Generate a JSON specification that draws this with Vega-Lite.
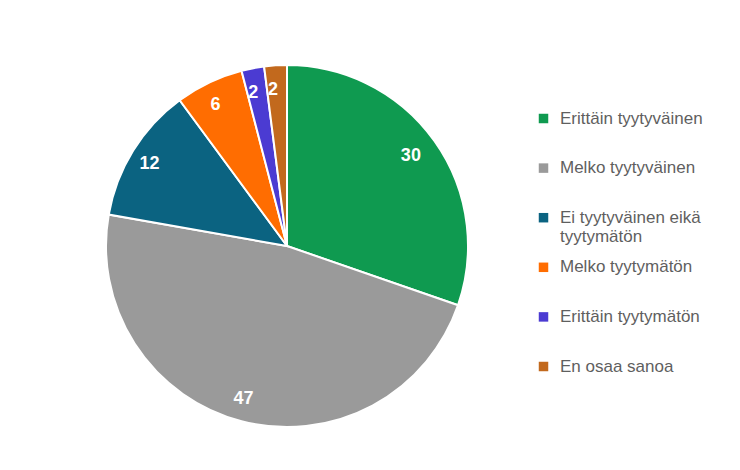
{
  "$schema": "https://vega.github.io/schema/vega-lite/v6.json",
  "width": 560,
  "height": 462,
  "autosize": {"type": "none"},
  "padding": {"left": 7, "top": 15, "right": 173, "bottom": 0},
  "background": "white",
  "config": {"view": {"stroke": null}},
  "data": {
    "values": [
      {"idx": 1, "category": "Erittäin tyytyväinen", "value": 30},
      {"idx": 2, "category": "Melko tyytyväinen", "value": 47},
      {"idx": 3, "category": "Ei tyytyväinen eikä tyytymätön", "value": 12},
      {"idx": 4, "category": "Melko tyytymätön", "value": 6},
      {"idx": 5, "category": "Erittäin tyytymätön", "value": 2},
      {"idx": 6, "category": "En osaa sanoa", "value": 2}
    ]
  },
  "encoding": {
    "theta": {"field": "value", "type": "quantitative", "stack": true},
    "order": {"field": "idx", "type": "quantitative"}
  },
  "layer": [
    {
      "mark": {"type": "arc", "outerRadius": 181, "stroke": "white", "strokeWidth": 2},
      "encoding": {
        "color": {
          "field": "category",
          "type": "nominal",
          "sort": null,
          "scale": {
            "domain": ["Erittäin tyytyväinen", "Melko tyytyväinen", "Ei tyytyväinen eikä tyytymätön", "Melko tyytymätön", "Erittäin tyytymätön", "En osaa sanoa"],
            "range": ["#0f9a50", "#9a9a9a", "#0b6381", "#ff6d01", "#4b3bd2", "#c2691d"]
          },
          "legend": {
            "title": null,
            "orient": "none",
            "legendX": 528,
            "legendY": 95,
            "padding": 0,
            "symbolType": "square",
            "symbolSize": 90,
            "symbolStrokeWidth": 0,
            "labelFont": "Liberation Sans",
            "labelFontSize": 17,
            "labelColor": "#5f5f5f",
            "labelOffset": 8,
            "labelLimit": 300,
            "gridAlign": "all",
            "rowPadding": 12.6,
            "labelExpr": "datum.label == 'Ei tyytyväinen eikä tyytymätön' ? ['Ei tyytyväinen eikä', 'tyytymätön'] : datum.label"
          }
        }
      }
    },
    {
      "mark": {"type": "text", "radius": 157, "dx": -4, "dy": 1, "fill": "white", "font": "Liberation Sans", "fontSize": 18, "fontWeight": "bold"},
      "encoding": {
        "text": {"field": "value", "type": "quantitative"}
      }
    }
  ]
}
